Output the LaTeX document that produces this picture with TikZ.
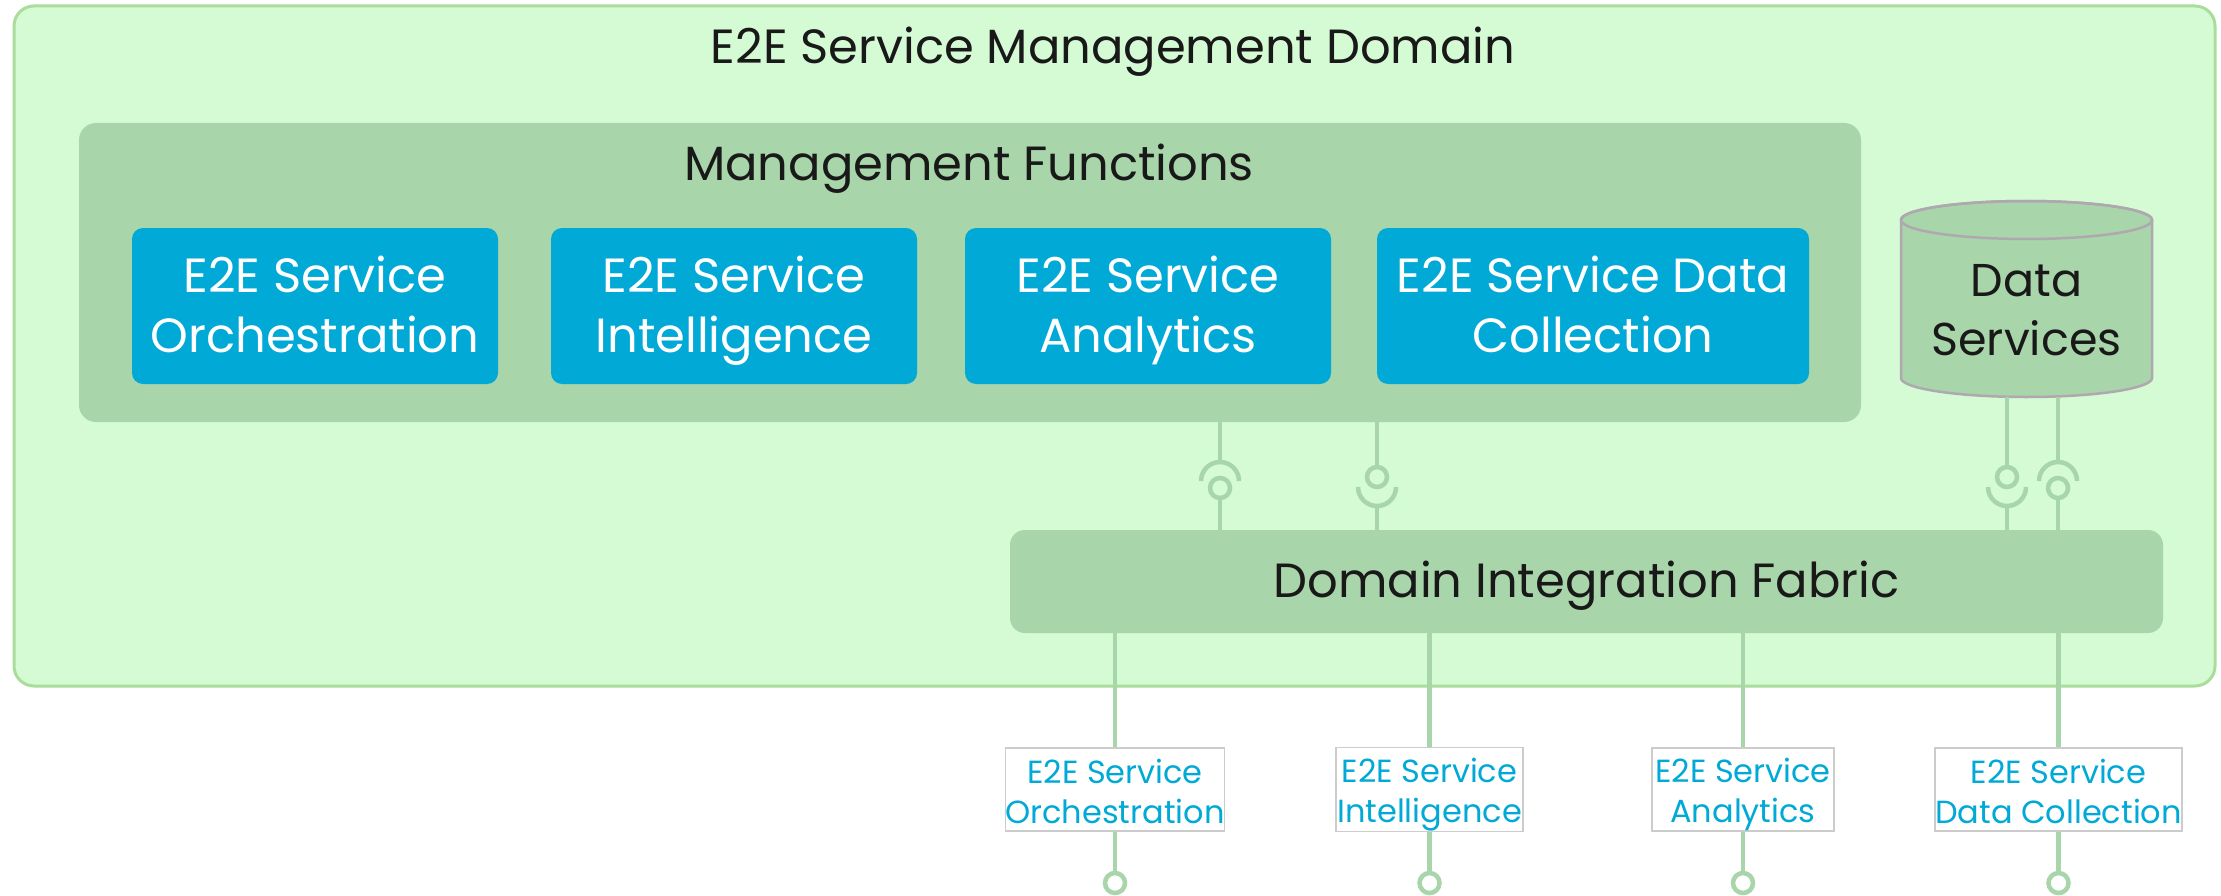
\documentclass[tikz,border=0pt]{standalone}
\usepackage{fontspec}
\setmainfont{Poppins}
\definecolor{outerfill}{HTML}{D4FBD4}
\definecolor{outerdraw}{HTML}{AADD9C}
\definecolor{midgreen}{HTML}{A8D5AA}
\definecolor{bluebox}{HTML}{00A9D6}
\definecolor{cylborder}{HTML}{B0A8B0}
\definecolor{labelborder}{HTML}{CCCCCC}
\newcommand\tallstrut[1]{\rule{0pt}{#1}}
\newcommand\deepstrut[1]{\rule[-#1]{0pt}{#1}}
\begin{document}
\begin{tikzpicture}[x=1pt,y=-1pt,
  outerbox/.style={draw=outerdraw,fill=outerfill,line width=3pt,rounded corners=20pt,inner sep=0pt},
  midbox/.style={fill=midgreen,rounded corners=17pt,inner sep=0pt},
  funcbox/.style={fill=bluebox,rounded corners=11pt,inner sep=0pt,text=white,align=center,
    minimum height=156pt,font=\fontsize{48}{60}\selectfont},
  bigtext/.style={font=\fontsize{48}{56}\selectfont,text=black!90},
  conn/.style={draw=midgreen,line width=4.5pt},
  ball/.style={circle,draw=midgreen,line width=4.5pt,minimum size=20pt,inner sep=0pt},
  endball/.style={circle,draw=midgreen,fill=white,line width=4.5pt,minimum size=20pt,inner sep=0pt},
  ifacelabel/.style={draw=labelborder,fill=white,line width=1.5pt,text=bluebox,align=center,
    inner sep=0pt,minimum height=83pt,font=\fontsize{32}{40}\selectfont}
]
\useasboundingbox (0,0) rectangle (2221,896);
\fill[white] (0,0) rectangle (2221,896);

% outer domain
\node[outerbox,minimum width=2201pt,minimum height=680pt] (dom) at (1114.5,346) {};
\node[bigtext] (domtitle) at (1113,52) {E2E Service Management Domain};

% management functions
\node[midbox,minimum width=1782pt,minimum height=299pt] (mf) at (970,272.5) {};
\node[bigtext] (mftitle) at (969,169) {Management Functions};

\node[funcbox,minimum width=366pt] (f1) at (315,306) {\tallstrut{51pt}E2E Service\\Orchestration\strut};
\node[funcbox,minimum width=366pt] (f2) at (734,306) {\tallstrut{51pt}E2E Service\\Intelligence\strut};
\node[funcbox,minimum width=366pt] (f3) at (1148,306) {\tallstrut{51pt}E2E Service\\Analytics\strut};
\node[funcbox,minimum width=432pt] (f4) at (1593,306) {\tallstrut{51pt}E2E Service Data\\Collection\strut};

% data services cylinder
\path[fill=midgreen,draw=cylborder,line width=2.5pt]
  (1901,220) -- (1901,378) arc[start angle=180,end angle=360,x radius=125.5pt,y radius=19pt]
  -- (2152,220) arc[start angle=0,end angle=180,x radius=125.5pt,y radius=19pt] -- cycle;
\draw[cylborder,line width=2.5pt] (2026.5,220) ellipse[x radius=125.5pt,y radius=19pt];
\node[align=center,font=\fontsize{46}{59}\selectfont,text=black!90] (ds) at (2026.5,314) {\strut Data\\Services\strut};
\coordinate (dsbottom) at (2026.5,397);

% domain integration fabric
\node[midbox,rounded corners=15pt,minimum width=1153pt,minimum height=103pt] (dif) at (1586.5,581.5) {};
\node[bigtext] (diftitle) at (1586.5,586) {Domain Integration Fabric};

% interfaces MF <-> DIF
% pattern A: socket above, ball below (x=1220)
\node[ball] (b1) at (1220,488) {};
\draw[conn] (b1 |- mf.south) -- (1220,462);
\draw[conn] (1201,481) arc[start angle=180,end angle=0,radius=19pt];
\draw[conn] (b1) -- (b1 |- dif.north);
% pattern B: ball above, socket below (x=1377)
\node[ball] (b2) at (1377,477) {};
\draw[conn] (b2 |- mf.south) -- (b2);
\draw[conn] (1358,487) arc[start angle=180,end angle=360,radius=19pt];
\draw[conn] (1377,506) -- (b2 |- dif.north);

% interfaces Data Services <-> DIF
\node[ball] (b3) at (2007,477) {};
\draw[conn] (b3 |- dsbottom) -- (b3);
\draw[conn] (1988,487) arc[start angle=180,end angle=360,radius=19pt];
\draw[conn] (2007,506) -- (b3 |- dif.north);
\node[ball] (b4) at (2058,488) {};
\draw[conn] (b4 |- dsbottom) -- (2058,462);
\draw[conn] (2039,481) arc[start angle=180,end angle=0,radius=19pt];
\draw[conn] (b4) -- (b4 |- dif.north);

% external interfaces
\node[ifacelabel,minimum width=218pt] (l1) at (1115,789.5) {\tallstrut{35pt}E2E Service\\Orchestration\deepstrut{8pt}};
\node[ifacelabel,minimum width=187pt] (l2) at (1429.5,789.5) {\tallstrut{35pt}E2E Service\\Intelligence\deepstrut{8pt}};
\node[ifacelabel,minimum width=182pt] (l3) at (1743,789.5) {\tallstrut{35pt}E2E Service\\Analytics\deepstrut{8pt}};
\node[ifacelabel,minimum width=241pt] (l4) at (2058.5,789.5) {\tallstrut{35pt}E2E Service\\Data Collection\deepstrut{8pt}};

\node[endball] (e1) at (1115,883) {};
\node[endball] (e2) at (1429.5,883) {};
\node[endball] (e3) at (1743,883) {};
\node[endball] (e4) at (2058.5,883) {};

\foreach \i in {1,2,3,4}{
  \draw[conn] (dif.south -| l\i) -- (l\i.north);
  \draw[conn] (l\i.south) -- (e\i.north);
}
\end{tikzpicture}
\end{document}
